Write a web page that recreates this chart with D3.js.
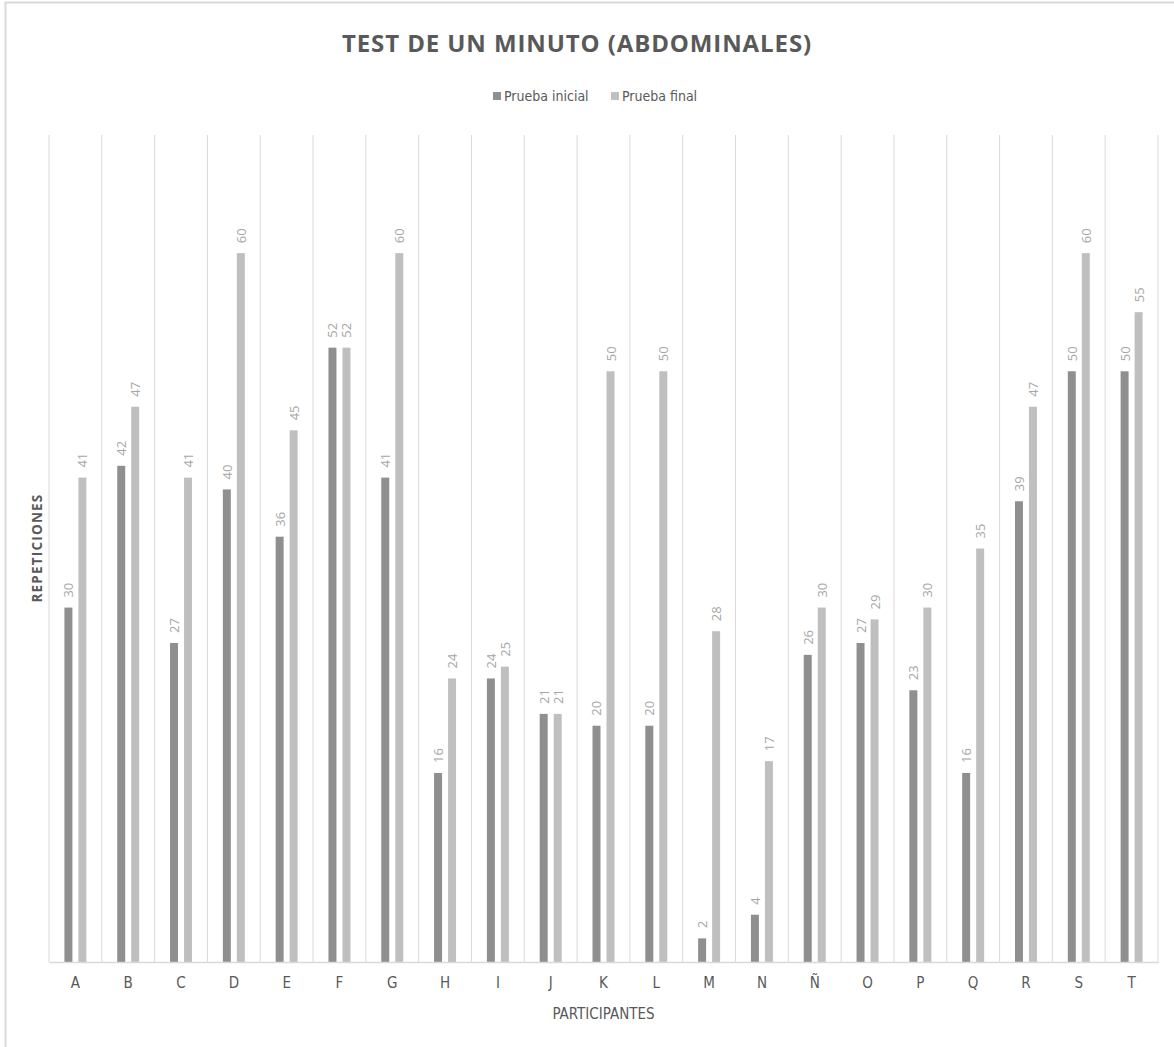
<!DOCTYPE html>
<html>
<head>
<meta charset="utf-8">
<script src="https://cdn.jsdelivr.net/npm/d3@7"></script>
<style>
  html, body { margin: 0; padding: 0; background: #fff; }
  svg { display: block; }
</style>
</head>
<body>
<svg id="chart" width="1174" height="1047"></svg>
<script>
// Participants (categories) and the two test rounds
const participants = ["A","B","C","D","E","F","G","H","I","J","K","L","M","N","Ñ","O","P","Q","R","S","T"];
const seriesNames = ["Prueba inicial", "Prueba final"];
const pruebaInicial = [30,42,27,40,36,52,41,16,24,21,20,20,2,4,26,27,23,16,39,50,50];
const pruebaFinal   = [41,47,41,60,45,52,60,24,25,21,50,50,28,17,30,29,30,35,47,60,55];
const yMax = 70;

const colors = { "Prueba inicial": "#8f8f8f", "Prueba final": "#bfbfbf" };
const narrow = "'Liberation Sans Narrow', 'DejaVu Sans Condensed', 'Open Sans', sans-serif";

const svg = d3.select("#chart");
const W = 1174, H = 1047;
const plot = { left: 49, right: 1158, top: 135, bottom: 962 };

// Outer chart frame
svg.append("rect")
  .attr("x", 5.5).attr("y", 2.5)
  .attr("width", W + 10).attr("height", H + 10)
  .attr("fill", "none").attr("stroke", "#d9d9d9").attr("stroke-width", 2);

const rows = participants.map((p, i) => ({
  name: p,
  values: [
    { key: seriesNames[0], value: pruebaInicial[i] },
    { key: seriesNames[1], value: pruebaFinal[i] }
  ]
}));

const x0 = d3.scaleBand().domain(participants).range([plot.left, plot.right]).padding(0);
const x1 = d3.scaleBand().domain(seriesNames).range([0, x0.bandwidth()])
  .paddingInner(0.43).paddingOuter(1.1);
const y = d3.scaleLinear().domain([0, yMax]).range([plot.bottom, plot.top]);

// Vertical gridlines at category boundaries
const bounds = participants.map(p => x0(p)).concat([plot.right]);
svg.append("g").selectAll("line").data(bounds).join("line")
  .attr("x1", d => d).attr("x2", d => d)
  .attr("y1", plot.top).attr("y2", plot.bottom)
  .attr("stroke", "#d9d9d9").attr("stroke-width", 1);

// Bars
const groups = svg.append("g").selectAll("g").data(rows).join("g")
  .attr("transform", d => `translate(${x0(d.name)},0)`);

groups.selectAll("rect").data(d => d.values).join("rect")
  .attr("x", d => x1(d.key))
  .attr("width", x1.bandwidth())
  .attr("y", d => y(d.value))
  .attr("height", d => y(0) - y(d.value))
  .attr("fill", d => colors[d.key]);

// Rotated value labels above each bar
groups.selectAll("text").data(d => d.values).join("text")
  .attr("transform", d => `translate(${x1(d.key) + x1.bandwidth() / 2},${y(d.value) - 10}) rotate(-90)`)
  .attr("text-anchor", "start")
  .attr("dominant-baseline", "central")
  .attr("font-family", "'Open Sans', sans-serif")
  .attr("font-size", 13)
  .attr("fill", "#a6a6a6")
  .text(d => d.value);

// Category axis
const xAxis = d3.axisBottom(x0).tickSize(0).tickPadding(15);
const gx = svg.append("g").attr("transform", `translate(0,${plot.bottom})`).call(xAxis);
gx.select(".domain").attr("stroke", "#d9d9d9").attr("stroke-width", 1.5);
gx.selectAll("text")
  .attr("font-family", narrow)
  .attr("font-size", 15)
  .attr("fill", "#595959");

// Axis titles
svg.append("text")
  .attr("x", (plot.left + plot.right) / 2).attr("y", 1019)
  .attr("text-anchor", "middle")
  .attr("font-family", narrow).attr("font-size", 15)
  .attr("fill", "#595959")
  .text("PARTICIPANTES");

svg.append("text")
  .attr("transform", `translate(42,548) rotate(-90)`)
  .attr("text-anchor", "middle")
  .attr("font-family", "'Open Sans', sans-serif").attr("font-size", 13.5)
  .attr("font-weight", "bold").attr("letter-spacing", 1.2)
  .attr("fill", "#595959")
  .text("REPETICIONES");

// Title
svg.append("text")
  .attr("x", 577).attr("y", 52)
  .attr("text-anchor", "middle")
  .attr("font-family", "'Open Sans', sans-serif").attr("font-size", 24)
  .attr("font-weight", "bold").attr("letter-spacing", 0.9)
  .attr("fill", "#595959")
  .text("TEST DE UN MINUTO (ABDOMINALES)");

// Legend
const legendItems = [
  { key: seriesNames[0], x: 493 },
  { key: seriesNames[1], x: 611 }
];
const lg = svg.append("g").selectAll("g").data(legendItems).join("g")
  .attr("transform", d => `translate(${d.x},92)`);
lg.append("rect").attr("width", 8).attr("height", 8)
  .attr("fill", d => colors[d.key]);
lg.append("text").attr("x", 11).attr("y", 4)
  .attr("dominant-baseline", "central")
  .attr("font-family", narrow).attr("font-size", 14)
  .attr("fill", "#595959")
  .text(d => d.key);
</script>
</body>
</html>
